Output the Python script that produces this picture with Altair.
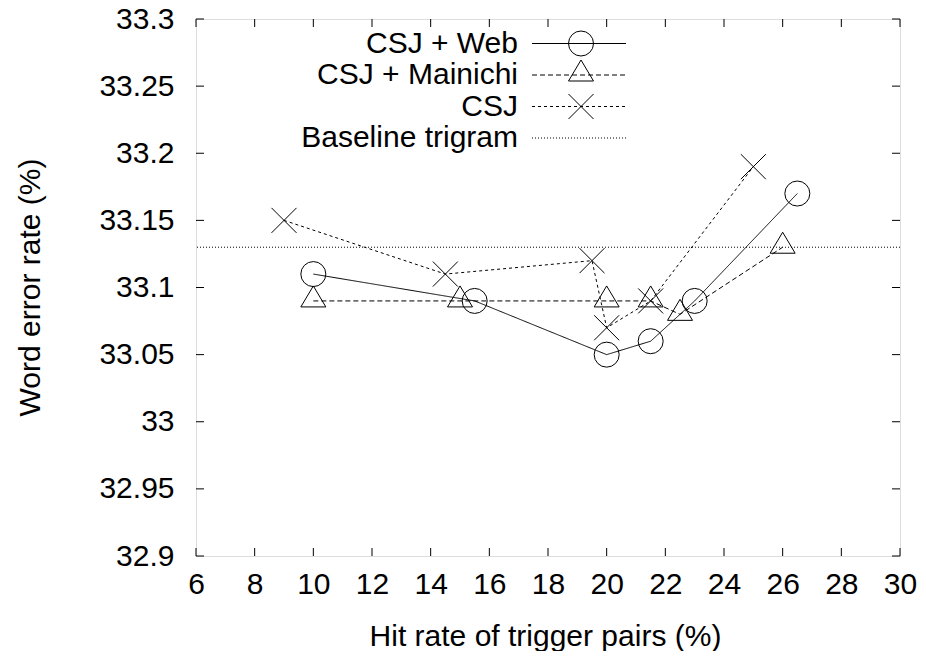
import altair as alt
import pandas as pd

# ---- data ----
series_names = ["CSJ + Web", "CSJ + Mainichi", "CSJ"]
web_x = [10, 15.5, 20, 21.5, 23, 26.5]
web_y = [33.11, 33.09, 33.05, 33.06, 33.09, 33.17]
main_x = [10, 15, 20, 21.5, 22.5, 26]
main_y = [33.09, 33.09, 33.09, 33.09, 33.08, 33.13]
csj_x = [9, 14.5, 19.5, 20, 21.5, 25]
csj_y = [33.15, 33.11, 33.12, 33.07, 33.09, 33.19]
baseline_name = "Baseline trigram"
baseline_y = [33.13]
x_ticks = [6, 8, 10, 12, 14, 16, 18, 20, 22, 24, 26, 28, 30]
y_ticks = [32.9, 32.95, 33.0, 33.05, 33.1, 33.15, 33.2, 33.25, 33.3]

# ---- styling ----
W, H = 704, 537
FONT = "Liberation Sans"
FS = 30
TICK = 8
circle_path = "circle"
tri_path = "M0,-1.2L-1,0.48L1,0.48Z"
x_path = "M-1,-1L1,1M1,-1L-1,1"
styles = [
    dict(dash=[1, 0], shape=circle_path),
    dict(dash=[5, 3], shape=tri_path),
    dict(dash=[3, 3], shape=x_path),
]
xs = [web_x, main_x, csj_x]
ys = [web_y, main_y, csj_y]

xscale = alt.Scale(domain=[6, 30], nice=False, zero=False)
yscale = alt.Scale(domain=[32.9, 33.3], nice=False, zero=False)

xaxis = alt.Axis(values=x_ticks, ticks=False, domain=False, grid=False, labelFlush=False,
                 labelFontSize=FS, labelFont=FONT, labelPadding=13, labelColor="black",
                 title="Hit rate of trigger pairs (%)", titleFontSize=FS, titleFont=FONT,
                 titleFontWeight="normal", titleColor="black",
                 titleX=349, titleY=89, titleBaseline="alphabetic", titleAlign="center")
yaxis = alt.Axis(values=y_ticks, ticks=False, domain=False, grid=False, format="~g",
                 labelFlush=False,
                 labelFontSize=FS, labelFont=FONT, labelPadding=22, labelColor="black",
                 title="Word error rate (%)", titleFontSize=FS, titleFont=FONT,
                 titleFontWeight="normal", titleColor="black", titleAngle=270,
                 titleX=-166, titleY=268, titleBaseline="middle", titleAlign="center")

layers = []
for i, name in enumerate(series_names):
    df = pd.DataFrame({"x": xs[i], "y": ys[i], "o": list(range(len(xs[i])))})
    st = styles[i]
    base = alt.Chart(df)
    line = base.mark_line(color="black", strokeWidth=1, strokeDash=st["dash"]).encode(
        x=alt.X("x:Q", scale=xscale, axis=xaxis),
        y=alt.Y("y:Q", scale=yscale, axis=yaxis),
        order="o:Q",
    )
    pts = base.mark_point(shape=st["shape"], size=625, filled=False, color="black",
                          strokeWidth=1, opacity=1).encode(
        x=alt.X("x:Q", scale=xscale),
        y=alt.Y("y:Q", scale=yscale),
    )
    layers += [line, pts]

base_rule = alt.Chart(pd.DataFrame({"y": baseline_y})).mark_rule(
    color="black", strokeWidth=1, strokeDash=[1, 2]).encode(
    y=alt.Y("y:Q", scale=yscale))
layers.append(base_rule)

# inward ticks on all four sides
xt = pd.DataFrame({"t": x_ticks})
yt = pd.DataFrame({"t": y_ticks})
tick_style = dict(color="black", strokeWidth=1)
layers.append(alt.Chart(xt).mark_rule(**tick_style).encode(
    x=alt.X("t:Q", scale=xscale), y=alt.value(H), y2=alt.value(H - TICK)))
layers.append(alt.Chart(xt).mark_rule(**tick_style).encode(
    x=alt.X("t:Q", scale=xscale), y=alt.value(0), y2=alt.value(TICK)))
layers.append(alt.Chart(yt).mark_rule(**tick_style).encode(
    y=alt.Y("t:Q", scale=yscale), x=alt.value(0), x2=alt.value(TICK)))
layers.append(alt.Chart(yt).mark_rule(**tick_style).encode(
    y=alt.Y("t:Q", scale=yscale), x=alt.value(W), x2=alt.value(W - TICK)))

# manual gnuplot-style legend (top, text right-aligned, sample on the right)
dummy = pd.DataFrame({"a": [0]})
leg_names = series_names + [baseline_name]
leg_dash = [s["dash"] for s in styles] + [[1, 2]]
row0, row_step = 24.5, 31.5
text_right, l_x1, l_x2, sym_x = 322, 336, 430, 385
for i, name in enumerate(leg_names):
    ry = row0 + i * row_step
    layers.append(alt.Chart(dummy).mark_text(
        text=name, align="right", baseline="middle", font=FONT, fontSize=FS,
        color="black").encode(x=alt.value(text_right), y=alt.value(ry)))
    layers.append(alt.Chart(dummy).mark_rule(
        color="black", strokeWidth=1, strokeDash=leg_dash[i]).encode(
        x=alt.value(l_x1), x2=alt.value(l_x2), y=alt.value(ry)))
    if i < len(styles):
        layers.append(alt.Chart(dummy).mark_point(
            shape=styles[i]["shape"], size=625, filled=False, color="black",
            strokeWidth=1, opacity=1).encode(x=alt.value(sym_x), y=alt.value(ry)))

chart = alt.layer(*layers).properties(
    width=W, height=H,
    autosize=alt.AutoSizeParams(type="none"),
    padding={"left": 188, "top": 11, "right": 17, "bottom": 95},
).configure_view(stroke="black", strokeWidth=1.2).configure(background="white")

chart.save("out.html", embed_options={"renderer": "svg", "actions": False})
